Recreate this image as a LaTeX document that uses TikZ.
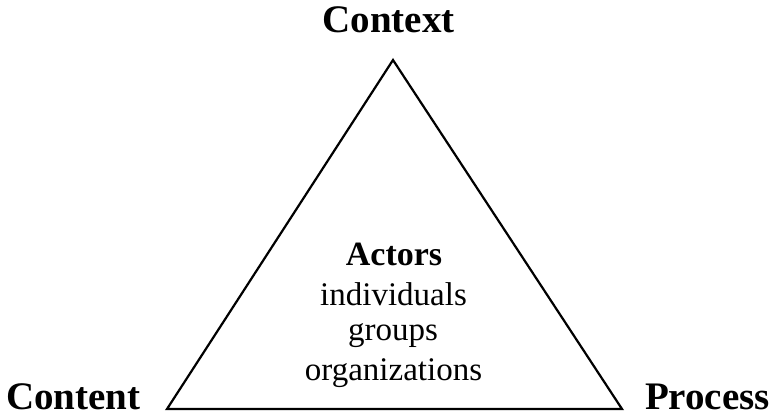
\documentclass[tikz,border=0pt]{standalone}
\usepackage{fontspec}
\setmainfont{Liberation Serif}
\begin{document}
\begin{tikzpicture}[x=1pt,y=-1pt,
  corner/.style={anchor=base,inner sep=0pt,font=\fontsize{39}{44}\selectfont\bfseries},
  head/.style={anchor=base,inner sep=0pt,font=\fontsize{34}{40}\selectfont\bfseries},
  item/.style={anchor=base,inner sep=0pt,font=\fontsize{33}{38}\selectfont},
  edge/.style={line width=2.2pt,line join=miter}]
\useasboundingbox (0,0) rectangle (777,417);
\coordinate (top) at (393,60);
\coordinate (bl) at (167,409);
\coordinate (br) at (622,409);
\draw[edge] (top) -- (br) -- (bl) -- cycle;
\node[corner] (context) at (388.5,33) {Context};
\node[corner] (content) at (73.5,409.5) {Content};
\node[corner] (process) at (707.5,409.5) {Process};
\node[head] (actors) at (394,265) {Actors};
\node[item] (ind) at (393.5,305) {individuals};
\node[item] (grp) at (393,340) {groups};
\node[item] (org) at (393.5,380) {organizations};
\end{tikzpicture}
\end{document}
